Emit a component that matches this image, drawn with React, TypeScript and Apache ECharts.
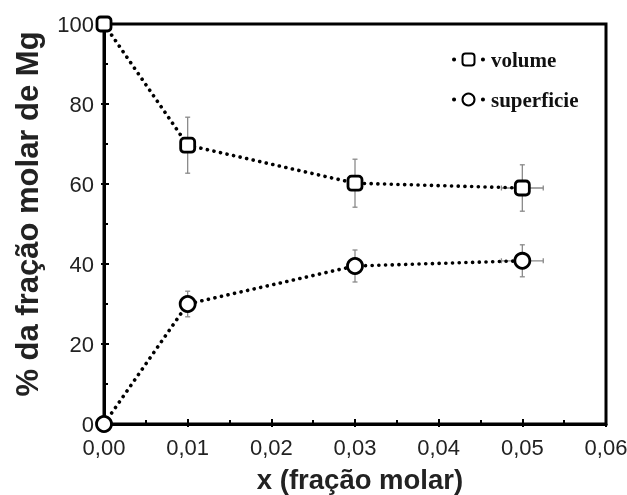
import React, { useEffect, useRef } from "react";
import * as echarts from "echarts";

const xValues = [0, 0.01, 0.03, 0.05];
const volumeValues = [100, 69.7, 60.2, 59.0];
const superficieValues = [0, 30.0, 39.5, 40.8];
const volumeErr = [0, 7.0, 6.0, 5.8];
const superficieErr = [0, 3.2, 4.0, 4.0];
const xErr = [0, 0, 0, 0.0025];
const xTickLabels = ["0,00", "0,01", "0,02", "0,03", "0,04", "0,05", "0,06"];
const yTickLabels = ["0", "20", "40", "60", "80", "100"];
const seriesNames = ["volume", "superficie"];

export default function App() {
  const ref = useRef<HTMLDivElement>(null);
  useEffect(() => {
    if (!ref.current) return;
    document.body.style.margin = "0";
    document.body.style.overflow = "hidden";
    document.documentElement.style.overflow = "hidden";
    const chart = echarts.init(ref.current, null, { renderer: "svg" });

    const errData: number[][] = [];
    xValues.forEach((x, i) => {
      if (volumeErr[i] > 0)
        errData.push([x, volumeValues[i], volumeValues[i] - volumeErr[i], volumeValues[i] + volumeErr[i], x - xErr[i], x + xErr[i]]);
      if (superficieErr[i] > 0)
        errData.push([x, superficieValues[i], superficieValues[i] - superficieErr[i], superficieValues[i] + superficieErr[i], x - xErr[i], x + xErr[i]]);
    });

    const lineStyle = { color: "#000", width: 3.6, type: [0.1, 6.6] as any, cap: "round" as any };
    const labelFont = { fontFamily: "Liberation Sans, Arial, sans-serif", fontSize: 22, color: "#222" };
    const titleFont = { fontFamily: "Liberation Sans, Arial, sans-serif", fontWeight: "bold", color: "#222" };

    const xIdx = (v: number) => Math.round(v * 100);

    chart.setOption({
      animation: false,
      grid: {
        left: 104,
        right: 21,
        top: 24,
        bottom: 71,
        show: true,
        borderColor: "#000",
        borderWidth: 3,
        backgroundColor: "transparent",
        outerBoundsMode: "none",
        containLabel: false,
      },
      legend: {
        orient: "vertical",
        left: 447,
        top: 44,
        itemGap: 19,
        itemWidth: 29,
        itemHeight: 15,
        data: seriesNames,
        lineStyle: { width: 4, type: [0.1, 28.8] as any, cap: "round" as any, color: "#000" },
        textStyle: { fontFamily: "Liberation Serif, Times New Roman, serif", fontWeight: "bold", fontSize: 21, color: "#111", padding: [0, 0, 0, 3] },
      },
      xAxis: [
        {
          type: "value",
          min: 0,
          max: 0.06,
          interval: 0.01,
          position: "bottom",
          name: "x (fração molar)",
          nameLocation: "middle",
          nameGap: 41,
          nameTextStyle: { ...titleFont, fontSize: 27.5, padding: [0, 0, 0, 10] },
          axisLine: { show: true, lineStyle: { color: "#000", width: 3 } },
          axisTick: { show: true, inside: true, length: 5, lineStyle: { color: "#000", width: 2 } },
          minorTick: { show: true, splitNumber: 2, length: 4, lineStyle: { color: "#000", width: 2 } },
          splitLine: { show: false },
          axisLabel: { ...labelFont, margin: 12, formatter: (v: number) => xTickLabels[xIdx(v)] ?? "" },
        },
        {
          type: "value",
          min: 0,
          max: 0.06,
          interval: 0.01,
          position: "bottom",
          axisLine: { show: false },
          axisTick: { show: true, inside: false, length: 3, lineStyle: { color: "#000", width: 2 } },
          axisLabel: { show: false },
          splitLine: { show: false },
        },
      ],
      yAxis: [
        {
          type: "value",
          min: 0,
          max: 100,
          interval: 20,
          position: "left",
          name: "% da fração molar de Mg",
          nameLocation: "middle",
          nameGap: 61,
          nameTextStyle: { ...titleFont, fontSize: 31, padding: [0, 0, 0, 20] },
          axisLine: { show: true, lineStyle: { color: "#000", width: 3 } },
          axisTick: { show: true, inside: true, length: 5, lineStyle: { color: "#000", width: 2 } },
          minorTick: { show: true, splitNumber: 2, length: 4, lineStyle: { color: "#000", width: 2 } },
          splitLine: { show: false },
          axisLabel: { ...labelFont, margin: 10, formatter: (v: number) => yTickLabels[Math.round(v / 20)] ?? "" },
        },
        {
          type: "value",
          min: 0,
          max: 100,
          interval: 20,
          position: "left",
          axisLine: { show: false },
          axisTick: { show: true, inside: false, length: 3, lineStyle: { color: "#000", width: 2 } },
          axisLabel: { show: false },
          splitLine: { show: false },
        },
      ],
      series: [
        {
          type: "custom",
          name: "err",
          clip: false,
          z: 1,
          data: errData,
          renderItem: (params: any, api: any) => {
            const x = api.value(0);
            const y = api.value(1);
            const lo = api.coord([x, api.value(2)]);
            const hi = api.coord([x, api.value(3)]);
            const xl = api.coord([api.value(4), y]);
            const xh = api.coord([api.value(5), y]);
            const st = { stroke: "#8a8a8a", lineWidth: 1.3 };
            const cap = 2.5;
            const children: any[] = [
              { type: "line", shape: { x1: lo[0], y1: lo[1], x2: hi[0], y2: hi[1] }, style: st },
              { type: "line", shape: { x1: lo[0] - cap, y1: lo[1], x2: lo[0] + cap, y2: lo[1] }, style: st },
              { type: "line", shape: { x1: hi[0] - cap, y1: hi[1], x2: hi[0] + cap, y2: hi[1] }, style: st },
            ];
            if (xh[0] - xl[0] > 1) {
              children.push(
                { type: "line", shape: { x1: xl[0], y1: xl[1], x2: xh[0], y2: xh[1] }, style: st },
                { type: "line", shape: { x1: xl[0], y1: xl[1] - cap, x2: xl[0], y2: xl[1] + cap }, style: st },
                { type: "line", shape: { x1: xh[0], y1: xh[1] - cap, x2: xh[0], y2: xh[1] + cap }, style: st }
              );
            }
            return { type: "group", children };
          },
        },
        {
          type: "line",
          name: "volume",
          clip: false,
          z: 3,
          data: xValues.map((x, i) => [x, volumeValues[i]]),
          symbol: "roundRect",
          symbolSize: 14,
          itemStyle: { color: "#fff", borderColor: "#000", borderWidth: 2.8 },
          lineStyle,
        },
        {
          type: "line",
          name: "superficie",
          clip: false,
          z: 3,
          data: xValues.map((x, i) => [x, superficieValues[i]]),
          symbol: "circle",
          symbolSize: 15,
          itemStyle: { color: "#fff", borderColor: "#000", borderWidth: 2.8 },
          lineStyle,
        },
      ],
    });
    return () => chart.dispose();
  }, []);
  return (
    <div
      ref={ref}
      style={{ width: 627, height: 495, position: "fixed", left: 0, top: 0, overflow: "hidden" }}
    />
  );
}
